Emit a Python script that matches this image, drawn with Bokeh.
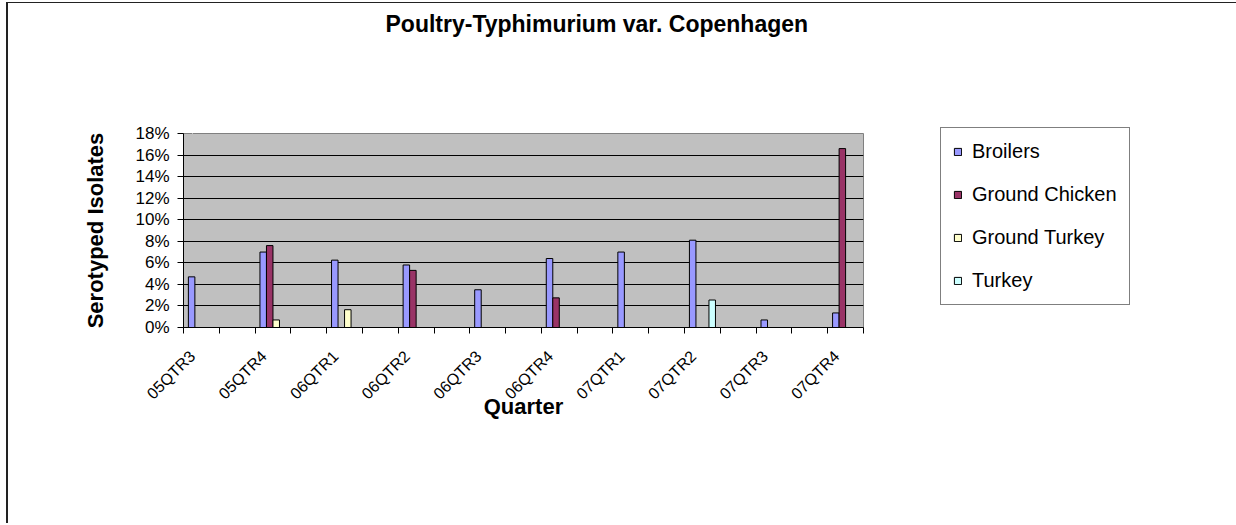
import math
from bokeh.plotting import figure
from bokeh.models import (ColumnDataSource, Range1d, FixedTicker, PrintfTickFormatter,
                          Legend, LegendItem, Title, LinearAxis)
from bokeh.embed import file_html
from bokeh.resources import INLINE

# ---- data (percent of serotyped isolates) ----
quarters = ["05QTR3", "05QTR4", "06QTR1", "06QTR2", "06QTR3",
            "06QTR4", "07QTR1", "07QTR2", "07QTR3", "07QTR4"]
broilers = [4.7, 7.0, 6.25, 5.8, 3.5, 6.4, 7.0, 8.1, 0.7, 1.35]
ground_chicken = [0, 7.6, 0, 5.3, 0, 2.75, 0, 0, 0, 16.6]
ground_turkey = [0, 0.7, 1.65, 0, 0, 0, 0, 0, 0, 0]
turkey = [0, 0, 0, 0, 0, 0, 0, 2.55, 0, 0]
series_names = ["Broilers", "Ground Chicken", "Ground Turkey", "Turkey"]
series_colors = ["#9999FF", "#993366", "#FFFFCC", "#CCFFFF"]
y_ticks = [0, 2, 4, 6, 8, 10, 12, 14, 16, 18]

FONT = "Liberation Sans"
n_cat = 2 * len(quarters) - 1   # Excel layout: data categories separated by empty ones
bar_w = 1 / 5.5                  # 4 bars + 150% gap
label_shift = 0.25               # Excel anchors rotated labels left of the category centre

p = figure(frame_width=680, frame_height=194, x_range=Range1d(0, n_cat), y_range=Range1d(0, 18),
           output_backend="svg", toolbar_location=None,
           min_border_left=175, min_border_right=0, min_border_top=130, min_border_bottom=196)
p.styles = {"margin-left": "6px", "margin-top": "2px",
            "border-left": "2px solid #222", "border-top": "1px solid #222"}
p.background_fill_color = "#C0C0C0"
p.border_fill_color = "white"
p.outline_line_color = "#808080"

all_series = [broilers, ground_chicken, ground_turkey, turkey]
items = []
for k, (vals, name, col) in enumerate(zip(all_series, series_names, series_colors)):
    xs, tops = [], []
    for i, v in enumerate(vals):
        if v > 0:
            xs.append(2 * i + 0.75 * bar_w + (k + 0.5) * bar_w)
            tops.append(v)
    src = ColumnDataSource(dict(x=xs, top=tops))
    r = p.vbar(x="x", top="top", bottom=0, width=bar_w, source=src,
               fill_color=col, line_color="black", line_width=1)
    items.append(LegendItem(label=name, renderers=[r]))

# x axis
label_pos = [2 * i + 0.5 - label_shift for i in range(len(quarters))]
p.xaxis.ticker = FixedTicker(ticks=label_pos, minor_ticks=list(range(n_cat + 1)))
p.xaxis.major_label_overrides = {pos: q for pos, q in zip(label_pos, quarters)}
p.xaxis.major_tick_out = 0
p.xaxis.major_tick_in = 0
p.xaxis.minor_tick_out = 6
p.xaxis.minor_tick_in = 0
p.xaxis.minor_tick_line_color = "black"
p.xaxis.axis_line_color = "black"
p.xaxis.major_label_orientation = math.pi / 4
p.xaxis.major_label_standoff = 20
p.xaxis.major_label_text_font = FONT
p.xaxis.major_label_text_font_size = "16px"
p.xaxis.major_label_text_color = "black"
p.xaxis.axis_label = "Quarter"
p.xaxis.axis_label_text_font = FONT
p.xaxis.axis_label_text_font_style = "bold"
p.xaxis.axis_label_text_font_size = "22px"
p.xaxis.axis_label_text_color = "black"
p.xaxis.axis_label_standoff = -17
p.xgrid.visible = False

# y axis
p.yaxis.ticker = FixedTicker(ticks=y_ticks)
p.yaxis.formatter = PrintfTickFormatter(format="%d%%")
p.yaxis.major_tick_out = 6
p.yaxis.major_tick_in = 0
p.yaxis.minor_tick_line_color = None
p.yaxis.axis_line_color = "black"
p.yaxis.major_label_standoff = 8
p.yaxis.major_label_text_font = FONT
p.yaxis.major_label_text_font_size = "17px"
p.yaxis.major_label_text_color = "black"
p.yaxis.axis_label = "Serotyped Isolates"
p.yaxis.axis_label_text_font = FONT
p.yaxis.axis_label_text_font_style = "bold"
p.yaxis.axis_label_text_font_size = "22px"
p.yaxis.axis_label_text_color = "black"
p.yaxis.axis_label_standoff = 24
p.ygrid.ticker = FixedTicker(ticks=y_ticks)
p.ygrid.grid_line_color = "black"

# invisible spacer (nearest the frame), then the title outside it
spacer = LinearAxis(ticker=FixedTicker(ticks=[label_pos[0]]), major_tick_out=97, major_tick_in=0,
                    major_label_standoff=0, major_label_overrides={label_pos[0]: ""},
                    major_label_text_font_size="1px", axis_line_color=None,
                    major_tick_line_color="white", minor_tick_line_color=None)
p.add_layout(spacer, "above")
title = Title(text="Poultry-Typhimurium var. Copenhagen", align="left", offset=202,
              standoff=0, text_font=FONT, text_font_style="bold",
              text_font_size="23px", text_color="black")
p.add_layout(title, "above")

legend = Legend(items=items, location=(77, 22), border_line_color="black",
                background_fill_color="white", background_fill_alpha=1,
                padding=12, spacing=20, glyph_width=9, glyph_height=9,
                label_height=9, label_standoff=10, margin=0,
                label_text_font=FONT, label_text_font_size="20px",
                label_text_color="black")
p.add_layout(legend, "right")

open("out.html", "w").write(file_html(p, INLINE))
